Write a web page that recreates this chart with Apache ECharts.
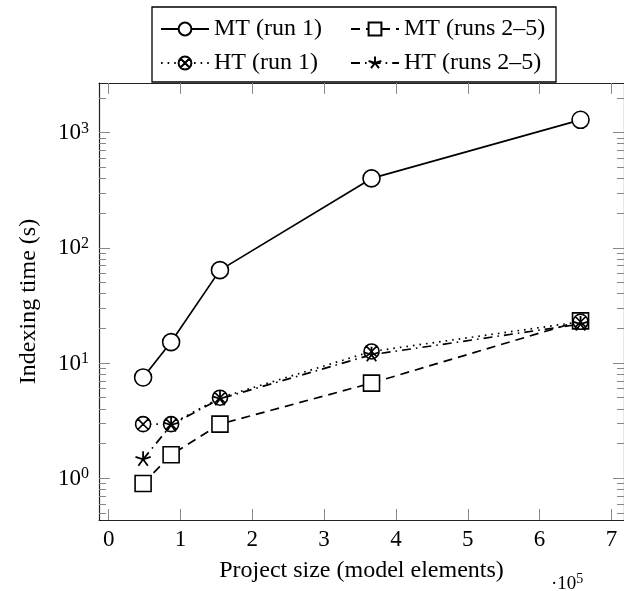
<!DOCTYPE html>
<html>
<head>
<meta charset="utf-8">
<script src="https://cdn.jsdelivr.net/npm/echarts@6/dist/echarts.min.js"></script>
<style>
html,body{margin:0;padding:0;background:#fff;}
#c{width:624px;height:591px;}
</style>
</head>
<body>
<div id="c"></div>
<script>
// Data (x in units of 10^5 model elements, y in seconds)
var projectSize = [0.48, 0.87, 1.55, 3.66, 6.57];
var mtRun1 = [7.5, 15.2, 64, 400, 1290];
var mtRuns25 = [0.9, 1.6, 2.95, 6.7, 23.2];
var htRun1 = [2.95, 2.95, 5.0, 12.6, 22.8];
var htRuns25 = [1.46, 2.9, 4.9, 11.8, 21.8];
var seriesNames = ['MT (run 1)', 'MT (runs 2\u20135)', 'HT (run 1)', 'HT (runs 2\u20135)'];
var xTicks = [0, 1, 2, 3, 4, 5, 6, 7];
var yMajorTicks = [1, 10, 100, 1000];
var yMinorTicks = [0.5, 0.6, 0.7, 0.8, 0.9, 2, 3, 4, 5, 6, 7, 8, 9, 20, 30, 40, 50, 60, 70, 80, 90, 200, 300, 400, 500, 600, 700, 800, 900, 2000];

var FONT = 'Liberation Serif';
var xMin = -0.134, xMax = 7.175;
var yMin = Math.pow(10, -0.362), yMax = Math.pow(10, 3.43);

function pairs(ys) {
  return projectSize.map(function (x, i) { return [x, ys[i]]; });
}

var otimesPath = 'path://M0,-10A10,10 0 1,1 0,10A10,10 0 1,1 0,-10Z M-7.07,-7.07L7.07,7.07 M-7.07,7.07L7.07,-7.07';
var starPath = 'path://M0,0L0,-10 M0,0L9.51,-3.09 M0,0L5.88,8.09 M0,0L-5.88,8.09 M0,0L-9.51,-3.09 M0,10L0,10';

var openStyle = { color: '#fff', borderColor: '#000', borderWidth: 1.6 };

var chart = echarts.init(document.getElementById('c'), null, { renderer: 'canvas' });

function yAxisCfg(pos, ticks, len, labels) {
  return {
    type: 'log', logBase: 10, position: pos, min: yMin, max: yMax,
    axisLine: { show: labels || false, onZero: false, lineStyle: { color: '#222', width: 1.2 } },
    axisTick: { show: true, inside: true, length: len, customValues: ticks, lineStyle: { color: '#888', width: 1 } },
    minorTick: { show: false },
    splitLine: { show: false },
    axisLabel: labels ? {
      show: true, customValues: ticks, margin: 10,
      formatter: function (v) { return '{b|10}{s|' + Math.round(Math.log10(v)) + '}'; },
      rich: {
        b: { fontFamily: FONT, fontSize: 23, color: '#000', lineHeight: 24, verticalAlign: 'bottom' },
        s: { fontFamily: FONT, fontSize: 16, color: '#000', lineHeight: 24, verticalAlign: 'top', padding: [0, 0, 8, 0] }
      }
    } : { show: false }
  };
}

var option = {
  animation: false,
  backgroundColor: '#fff',
  grid: { left: 99, right: 0, top: 83, bottom: 71, containLabel: false },
  legend: {
    left: 152, top: 7, width: 390,
    orient: 'horizontal',
    padding: [9, 8, 6, 8],
    itemGap: 8,
    itemWidth: 48, itemHeight: 16,
    borderColor: '#000', borderWidth: 1.3,
    textStyle: { fontFamily: FONT, fontSize: 24, color: '#000', lineHeight: 26 },
    data: [
      { name: seriesNames[0], textStyle: { width: 128 } },
      { name: seriesNames[1], textStyle: { width: 144 } },
      { name: seriesNames[2], textStyle: { width: 128 } },
      { name: seriesNames[3], textStyle: { width: 144 } }
    ]
  },
  xAxis: [
    {
      type: 'value', position: 'bottom', min: xMin, max: xMax,
      name: 'Project size (model elements)', nameLocation: 'middle', nameGap: 39,
      nameTextStyle: { fontFamily: FONT, fontSize: 24, color: '#000' },
      axisLine: { show: true, onZero: false, lineStyle: { color: '#222', width: 1.2 } },
      axisTick: { show: true, inside: true, length: 11, customValues: xTicks, lineStyle: { color: '#888', width: 1 } },
      axisLabel: { show: true, customValues: xTicks, margin: 8, fontFamily: FONT, fontSize: 23, color: '#000' },
      splitLine: { show: false }
    },
    {
      type: 'value', position: 'top', min: xMin, max: xMax,
      axisLine: { show: true, onZero: false, lineStyle: { color: '#222', width: 1.2 } },
      axisTick: { show: true, inside: true, length: 11, customValues: xTicks, lineStyle: { color: '#888', width: 1 } },
      axisLabel: { show: false },
      splitLine: { show: false }
    }
  ],
  yAxis: [
    Object.assign(yAxisCfg('left', yMajorTicks, 11, true), {
      name: 'Indexing time (s)', nameLocation: 'middle', nameGap: 58,
      nameTextStyle: { fontFamily: FONT, fontSize: 24, color: '#000' }
    }),
    yAxisCfg('left', yMinorTicks, 7, false),
    (function () { var a = yAxisCfg('right', yMajorTicks, 11, false); a.axisLine.show = true; return a; })(),
    yAxisCfg('right', yMinorTicks, 7, false)
  ],
  graphic: [
    {
      type: 'text', left: 551, top: 572,
      style: {
        text: '{d|\u00b7}{b|10}{s|5}',
        rich: {
          d: { fontFamily: FONT, fontSize: 19, fill: '#000', lineHeight: 22, verticalAlign: 'bottom' },
          b: { fontFamily: FONT, fontSize: 19, fill: '#000', lineHeight: 22, verticalAlign: 'bottom' },
          s: { fontFamily: FONT, fontSize: 14, fill: '#000', lineHeight: 22, verticalAlign: 'top', padding: [0, 0, 6, 0] }
        }
      }
    }
  ],
  series: [
    {
      name: seriesNames[0], type: 'line', data: pairs(mtRun1),
      symbol: 'circle', symbolSize: 17,
      lineStyle: { color: '#000', width: 1.7, type: 'solid' },
      itemStyle: openStyle
    },
    {
      name: seriesNames[1], type: 'line', data: pairs(mtRuns25),
      symbol: 'rect', symbolSize: 16,
      lineStyle: { color: '#000', width: 1.7, type: [9, 6] },
      itemStyle: openStyle
    },
    {
      name: seriesNames[2], type: 'line', data: pairs(htRun1),
      symbol: otimesPath, symbolSize: 15, symbolKeepAspect: true,
      lineStyle: { color: '#000', width: 1.7, type: [1.6, 5] },
      itemStyle: { color: '#fff', borderColor: '#000', borderWidth: 1.6 }
    },
    {
      name: seriesNames[3], type: 'line', data: pairs(htRuns25),
      symbol: starPath, symbolSize: 16, symbolKeepAspect: true,
      lineStyle: { color: '#000', width: 1.7, type: [9, 5, 1.6, 5] },
      itemStyle: { color: '#000', borderColor: '#000', borderWidth: 1.8 }
    }
  ]
};
chart.setOption(option);
</script>
</body>
</html>
